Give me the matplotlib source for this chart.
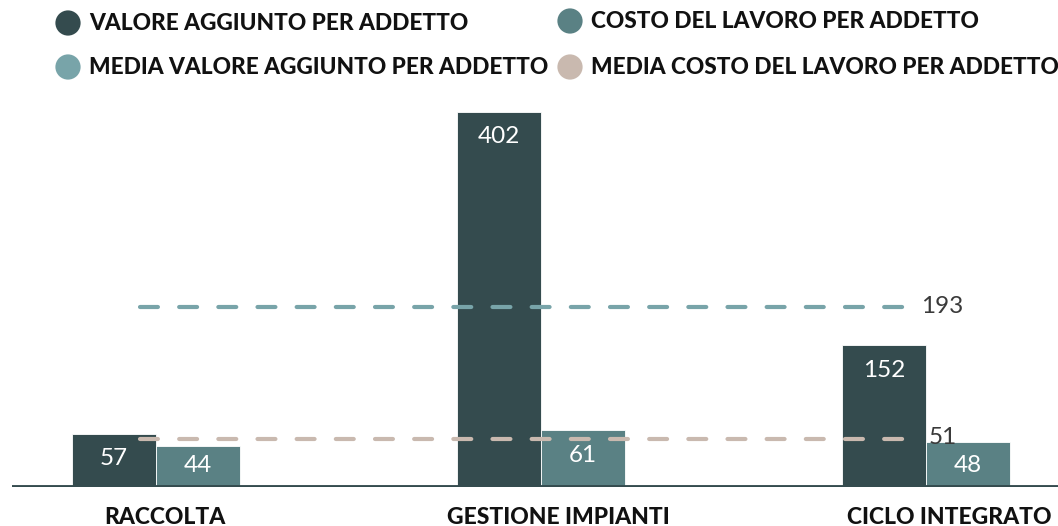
import matplotlib
matplotlib.use("Agg")
import matplotlib.pyplot as plt
import numpy as np

categories = ["RACCOLTA", "GESTIONE IMPIANTI", "CICLO INTEGRATO"]
valore_aggiunto = [57, 402, 152]
costo_lavoro = [44, 61, 48]
media_valore = 193
media_costo = 51
legend_labels = ["VALORE AGGIUNTO PER ADDETTO", "COSTO DEL LAVORO PER ADDETTO",
                 "MEDIA VALORE AGGIUNTO PER ADDETTO", "MEDIA COSTO DEL LAVORO PER ADDETTO"]

c_dark = "#344b4e"
c_mid = "#5a8184"
c_avg_v = "#78a4a9"
c_avg_c = "#c9b9af"
c_text = "#3a3a3a"

plt.rcParams['font.family'] = ['Lato', 'DejaVu Sans']

W, H = 1058, 526
fig = plt.figure(figsize=(W / 100, H / 100), dpi=100)
ax = fig.add_axes([12 / W, (H - 487) / H, 1 - 12 / W, (487 - 95) / H])

x = np.arange(len(categories))
bw = 0.218
ymax = 420
ax.set_ylim(0, ymax)
ax.set_xlim(-0.374, 2.343)

b1 = ax.bar(x - bw / 2, valore_aggiunto, width=bw, color=c_dark, edgecolor="white", linewidth=0.6, zorder=2)
b2 = ax.bar(x + bw / 2, costo_lavoro, width=bw, color=c_mid, edgecolor="white", linewidth=0.6, zorder=2)

px_per_unit = (487 - 95) / ymax
for bars, vals in ((b1, valore_aggiunto), (b2, costo_lavoro)):
    for rect, v in zip(bars, vals):
        y = max(v - 25 / px_per_unit, 22 / px_per_unit)
        ax.text(rect.get_x() + rect.get_width() / 2, y, str(v), color="white",
                fontsize=17.5, ha="center", va="center", zorder=4)

x0, x1 = -0.042, 1.971
ax.plot([x0, x1], [media_valore, media_valore], color=c_avg_v, lw=3,
        linestyle=(0, (4.3, 5.1)), dash_capstyle="round", zorder=3)
ax.plot([x0, x1], [media_costo, media_costo], color=c_avg_c, lw=3,
        linestyle=(0, (4.3, 5.1)), dash_capstyle="round", zorder=3)
ax.text(x1 + 0.015, media_valore, str(media_valore), color=c_text, fontsize=17.5,
        ha="left", va="center")
ax.text(x1 + 0.035, media_costo + 2, str(media_costo), color=c_text, fontsize=17.5,
        ha="left", va="center")

ax.axhline(0, color=c_dark, lw=3.5, zorder=5)
for s in ax.spines.values():
    s.set_visible(False)
ax.set_yticks([])
ax.set_xticks([])
label_shift = [0.023, 0.044, 0.06]
for i, (cat, sh) in enumerate(zip(categories, label_shift)):
    ax.text(i + sh, -30 / px_per_unit, cat, fontsize=16.5, fontweight="black",
            color="#111111", ha="center", va="center", clip_on=False)

# legend
lax = fig.add_axes([0, 0, 1, 1])
lax.set_xlim(0, W)
lax.set_ylim(H, 0)
lax.axis("off")
lax.patch.set_alpha(0)
leg_cols = [c_dark, c_mid, c_avg_v, c_avg_c]
pos = [(68, 23), (570, 21), (68, 67), (570, 67)]
for (px, py), col, lab in zip(pos, leg_cols, legend_labels):
    lax.scatter([px], [py], s=330, color=col, edgecolor="none")
    lax.text(px + 21, py + 1, lab, fontsize=16.3, fontweight="black", color="#111111",
             ha="left", va="center")

fig.savefig("out.png", dpi=100)
